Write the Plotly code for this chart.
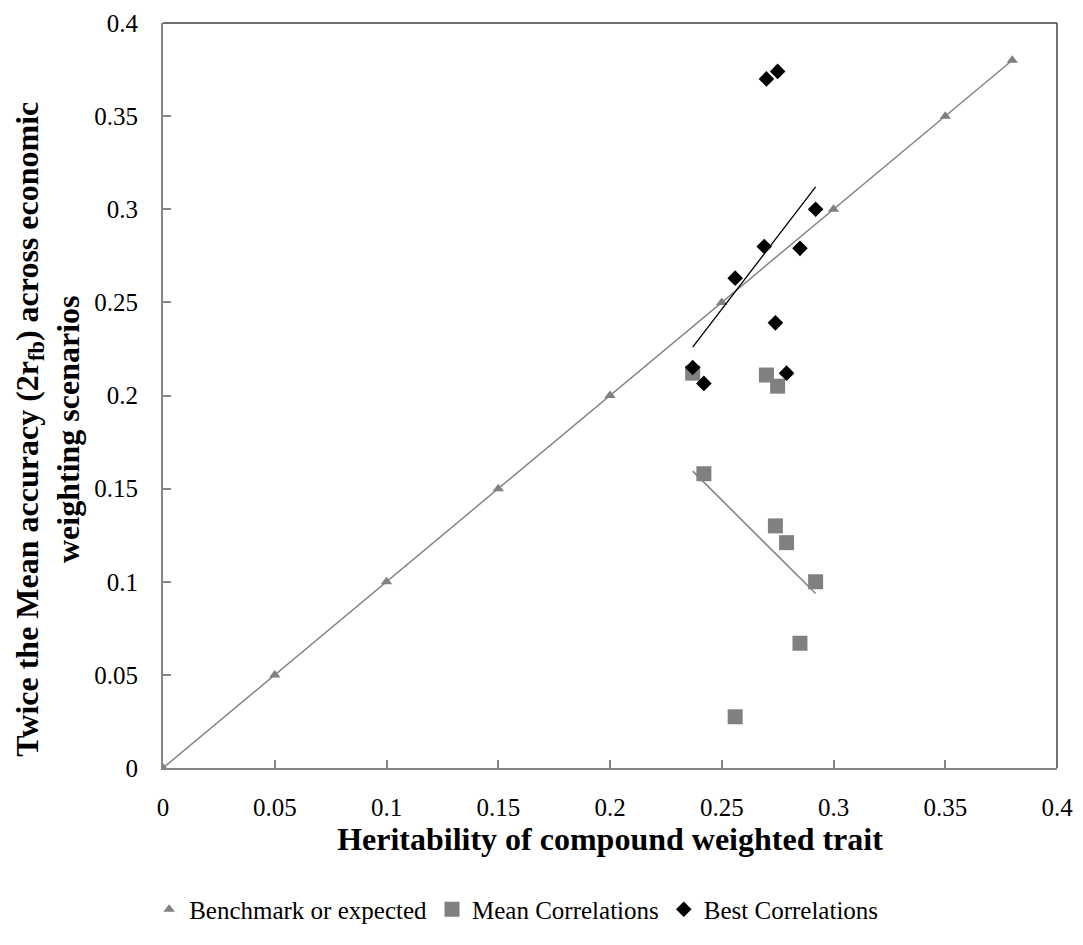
import plotly.graph_objects as go

# ---- data ----
bench_x = [0, 0.05, 0.10, 0.15, 0.20, 0.25, 0.30, 0.35, 0.38]
bench_y = [0, 0.05, 0.10, 0.15, 0.20, 0.25, 0.30, 0.35, 0.38]

mean_x = [0.237, 0.242, 0.256, 0.270, 0.274, 0.275, 0.279, 0.285, 0.292]
mean_y = [0.212, 0.158, 0.0275, 0.211, 0.130, 0.205, 0.121, 0.067, 0.100]

best_x = [0.237, 0.242, 0.256, 0.269, 0.270, 0.274, 0.275, 0.279, 0.285, 0.292]
best_y = [0.215, 0.2065, 0.263, 0.280, 0.370, 0.239, 0.374, 0.212, 0.279, 0.300]

trend_x = [0.237, 0.292]
mean_trend_y = [0.1594, 0.0937]
best_trend_y = [0.226, 0.312]

tick_vals = [0, 0.05, 0.1, 0.15, 0.2, 0.25, 0.3, 0.35, 0.4]
tick_text = ["0", "0.05", "0.1", "0.15", "0.2", "0.25", "0.3", "0.35", "0.4"]

FONT = "Liberation Serif, Times New Roman, serif"
GRAY = "#868686"
MARK_GRAY = "#808080"

fig = go.Figure()

# benchmark line (no legend) + markers (legend)
fig.add_trace(go.Scatter(x=bench_x, y=bench_y, mode="lines",
                         line=dict(color=GRAY, width=1.5),
                         showlegend=False, hoverinfo="skip"))
fig.add_trace(go.Scatter(x=bench_x, y=bench_y, mode="markers",
                         name="Benchmark or expected",
                         marker=dict(symbol="triangle-up", size=10, color=MARK_GRAY)))
fig.add_trace(go.Scatter(x=mean_x, y=mean_y, mode="markers",
                         name="Mean Correlations",
                         marker=dict(symbol="square", size=15, color=MARK_GRAY)))
fig.add_trace(go.Scatter(x=best_x, y=best_y, mode="markers",
                         name="Best Correlations",
                         marker=dict(symbol="diamond", size=12, color="black")))
# linear trend lines
fig.add_trace(go.Scatter(x=trend_x, y=mean_trend_y, mode="lines",
                         line=dict(color=MARK_GRAY, width=1.5),
                         showlegend=False, hoverinfo="skip"))
fig.add_trace(go.Scatter(x=trend_x, y=best_trend_y, mode="lines",
                         line=dict(color="black", width=1.3),
                         showlegend=False, hoverinfo="skip"))

axis_common = dict(
    range=[0, 0.4], tickvals=tick_vals, ticktext=tick_text, automargin=False,
    showgrid=False, zeroline=False, showline=True, linecolor=GRAY, linewidth=2,
    ticks="inside", ticklen=8, tickwidth=1.5, tickcolor=GRAY,
    tickfont=dict(family=FONT, size=25, color="black"),
)

fig.update_xaxes(**axis_common, ticklabelstandoff=16,
                 title=dict(text="<b>Heritability of compound weighted trait</b>",
                            font=dict(family=FONT, size=32, color="black"),
                            standoff=8))
fig.update_yaxes(**axis_common, ticklabelstandoff=18)

# box border top/right
fig.add_shape(type="line", xref="x domain", yref="y domain", x0=0, x1=1, y0=1, y1=1,
              line=dict(color="#404040", width=1.5))
fig.add_shape(type="line", xref="x domain", yref="y domain", x0=1, x1=1, y0=0, y1=1,
              line=dict(color="#404040", width=1.5))

fig.add_annotation(
    text="<b>Twice the Mean accuracy (2r<sub>fb</sub>) across economic<br>weighting scenarios</b>",
    xref="paper", yref="paper", x=-0.129, y=0.455, xanchor="center", yanchor="middle",
    textangle=-90, showarrow=False, align="center",
    font=dict(family=FONT, size=32, color="black"))

fig.update_layout(
    width=1075, height=937,
    margin=dict(l=155, r=26, t=15, b=175),
    paper_bgcolor="white", plot_bgcolor="white",
    font=dict(family=FONT, color="black"),
    legend=dict(orientation="h", x=0.395, xanchor="center", y=-0.19, yanchor="middle",
                font=dict(family=FONT, size=25, color="black"),
                itemwidth=30, bgcolor="rgba(0,0,0,0)"),
)

fig.write_html("out.html")
